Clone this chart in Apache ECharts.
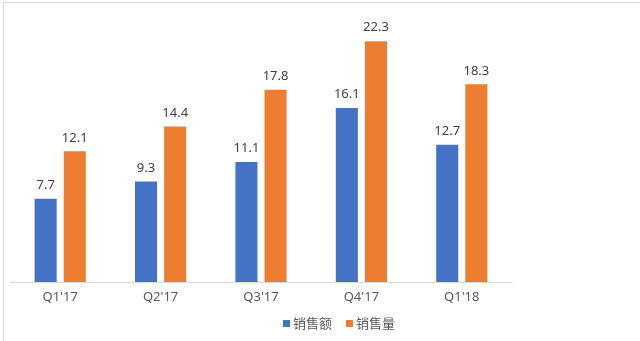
<!DOCTYPE html>
<html>
<head>
<meta charset="utf-8">
<script src="https://cdn.jsdelivr.net/npm/echarts@6/dist/echarts.min.js"></script>
<style>html,body{margin:0;padding:0;background:#fff}#c{width:640px;height:341px}</style>
</head>
<body>
<div id="c"></div>
<script>
const categories = ["Q1'17", "Q2'17", "Q3'17", "Q4'17", "Q1'18"];
const salesAmount = [7.7, 9.3, 11.1, 16.1, 12.7];
const salesVolume = [12.1, 14.4, 17.8, 22.3, 18.3];
const seriesNames = ["销售额", "销售量"];

const chart = echarts.init(document.getElementById('c'), null, {renderer: 'canvas'});
const font = '"Noto Sans", "Noto Sans CJK SC", sans-serif';
chart.setOption({
  animation: false,
  backgroundColor: '#ffffff',
  textStyle: {fontFamily: font},
  graphic: [{
    type: 'rect', left: 1, top: 0, shape: {width: 637, height: 339},
    style: {fill: 'none', stroke: '#d9d9d9', lineWidth: 1}, silent: true
  }],
  grid: {left: 10, top: 12, width: 502, height: 270, containLabel: false},
  legend: {
    left: 278, top: 312, itemWidth: 7, itemHeight: 7, itemGap: 14,
    icon: 'rect',
    textStyle: {fontSize: 13, color: '#595959', fontFamily: '"Noto Sans CJK SC", sans-serif', padding: [0,0,0,-2]},
    data: seriesNames
  },
  xAxis: {
    type: 'category', data: categories,
    axisLine: {lineStyle: {color: '#d9d9d9', width: 1}},
    axisTick: {show: false},
    axisLabel: {color: '#595959', fontSize: 13, margin: 9, fontFamily: font}
  },
  yAxis: {
    type: 'value', min: 0, max: 25, show: false,
    splitLine: {show: false}
  },
  series: [
    {
      name: seriesNames[0], type: 'bar', data: salesAmount,
      itemStyle: {color: '#4472C4'},
      barGap: '32%', barCategoryGap: '49%',
      label: {show: true, position: 'top', distance: 7, color: '#404040', fontSize: 13, fontFamily: font}
    },
    {
      name: seriesNames[1], type: 'bar', data: salesVolume,
      itemStyle: {color: '#ED7D31'},
      label: {show: true, position: 'top', distance: 7, color: '#404040', fontSize: 13, fontFamily: font}
    }
  ]
});
</script>
</body>
</html>
